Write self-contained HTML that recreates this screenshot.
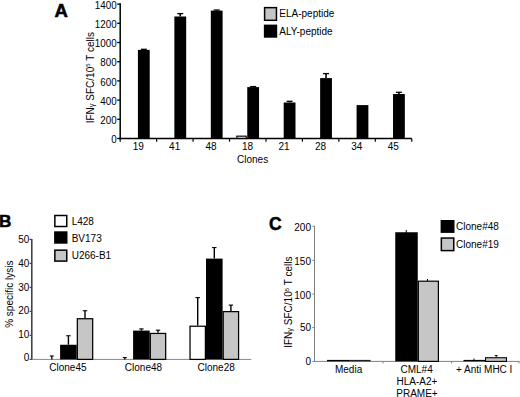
<!DOCTYPE html>
<html><head><meta charset="utf-8"><style>
html,body{margin:0;padding:0;background:#fff;}
svg{display:block;font-family:"Liberation Sans", sans-serif;}
</style></head><body>
<svg width="520" height="397" viewBox="0 0 520 397">
<rect width="520" height="397" fill="#fff"/>
<text x="55.00" y="17.00" font-size="17.5" text-anchor="start" font-weight="bold" fill="#000" stroke="#000" stroke-width="0.5" transform="translate(61.5,0) scale(1.06,1) translate(-61.5,0)">A</text>
<line x1="120.20" y1="3.30" x2="120.20" y2="139.25" stroke="#000" stroke-width="1.5"/>
<line x1="117.20" y1="138.50" x2="120.20" y2="138.50" stroke="#000" stroke-width="1.3"/>
<text transform="translate(116.60,143.20) scale(1,1.1)" font-size="9.8" text-anchor="end" font-weight="normal" fill="#000" >0</text>
<line x1="117.20" y1="119.30" x2="120.20" y2="119.30" stroke="#000" stroke-width="1.3"/>
<text transform="translate(116.60,124.00) scale(1,1.1)" font-size="9.8" text-anchor="end" font-weight="normal" fill="#000" >200</text>
<line x1="117.20" y1="100.10" x2="120.20" y2="100.10" stroke="#000" stroke-width="1.3"/>
<text transform="translate(116.60,104.80) scale(1,1.1)" font-size="9.8" text-anchor="end" font-weight="normal" fill="#000" >400</text>
<line x1="117.20" y1="80.90" x2="120.20" y2="80.90" stroke="#000" stroke-width="1.3"/>
<text transform="translate(116.60,85.60) scale(1,1.1)" font-size="9.8" text-anchor="end" font-weight="normal" fill="#000" >600</text>
<line x1="117.20" y1="61.70" x2="120.20" y2="61.70" stroke="#000" stroke-width="1.3"/>
<text transform="translate(116.60,66.40) scale(1,1.1)" font-size="9.8" text-anchor="end" font-weight="normal" fill="#000" >800</text>
<line x1="117.20" y1="42.50" x2="120.20" y2="42.50" stroke="#000" stroke-width="1.3"/>
<text transform="translate(116.60,47.20) scale(1,1.1)" font-size="9.8" text-anchor="end" font-weight="normal" fill="#000" >1000</text>
<line x1="117.20" y1="23.30" x2="120.20" y2="23.30" stroke="#000" stroke-width="1.3"/>
<text transform="translate(116.60,28.00) scale(1,1.1)" font-size="9.8" text-anchor="end" font-weight="normal" fill="#000" >1200</text>
<line x1="117.20" y1="4.10" x2="120.20" y2="4.10" stroke="#000" stroke-width="1.3"/>
<text transform="translate(116.60,8.80) scale(1,1.1)" font-size="9.8" text-anchor="end" font-weight="normal" fill="#000" >1400</text>
<line x1="119.45" y1="138.50" x2="411.75" y2="138.50" stroke="#000" stroke-width="1.6"/>
<line x1="120.20" y1="138.50" x2="120.20" y2="141.70" stroke="#000" stroke-width="1.2"/>
<line x1="156.64" y1="138.50" x2="156.64" y2="141.70" stroke="#000" stroke-width="1.2"/>
<line x1="193.09" y1="138.50" x2="193.09" y2="141.70" stroke="#000" stroke-width="1.2"/>
<line x1="229.53" y1="138.50" x2="229.53" y2="141.70" stroke="#000" stroke-width="1.2"/>
<line x1="265.98" y1="138.50" x2="265.98" y2="141.70" stroke="#000" stroke-width="1.2"/>
<line x1="302.42" y1="138.50" x2="302.42" y2="141.70" stroke="#000" stroke-width="1.2"/>
<line x1="338.86" y1="138.50" x2="338.86" y2="141.70" stroke="#000" stroke-width="1.2"/>
<line x1="375.31" y1="138.50" x2="375.31" y2="141.70" stroke="#000" stroke-width="1.2"/>
<line x1="411.75" y1="138.50" x2="411.75" y2="141.70" stroke="#000" stroke-width="1.2"/>
<rect x="137.92" y="49.90" width="11.80" height="88.60" fill="#000"/>
<line x1="143.82" y1="49.90" x2="143.82" y2="49.30" stroke="#000" stroke-width="1.6"/>
<line x1="140.82" y1="49.30" x2="146.82" y2="49.30" stroke="#000" stroke-width="1.3"/>
<text x="138.22" y="150.00" font-size="10" text-anchor="middle" font-weight="normal" fill="#000" >19</text>
<rect x="174.37" y="16.50" width="11.80" height="122.00" fill="#000"/>
<line x1="180.27" y1="16.50" x2="180.27" y2="13.60" stroke="#000" stroke-width="1.6"/>
<line x1="177.27" y1="13.60" x2="183.27" y2="13.60" stroke="#000" stroke-width="1.3"/>
<text x="174.67" y="150.00" font-size="10" text-anchor="middle" font-weight="normal" fill="#000" >41</text>
<rect x="210.81" y="10.60" width="11.80" height="127.90" fill="#000"/>
<line x1="216.71" y1="10.60" x2="216.71" y2="10.00" stroke="#000" stroke-width="1.6"/>
<line x1="213.71" y1="10.00" x2="219.71" y2="10.00" stroke="#000" stroke-width="1.3"/>
<text x="211.11" y="150.00" font-size="10" text-anchor="middle" font-weight="normal" fill="#000" >48</text>
<rect x="247.25" y="87.10" width="11.80" height="51.40" fill="#000"/>
<line x1="253.15" y1="87.10" x2="253.15" y2="86.60" stroke="#000" stroke-width="1.6"/>
<line x1="250.15" y1="86.60" x2="256.15" y2="86.60" stroke="#000" stroke-width="1.3"/>
<rect x="236.80" y="136.15" width="9.40" height="2.35" fill="#c6c6c6" stroke="#000" stroke-width="1.1"/>
<text x="247.55" y="150.00" font-size="10" text-anchor="middle" font-weight="normal" fill="#000" >18</text>
<rect x="283.70" y="102.50" width="11.80" height="36.00" fill="#000"/>
<line x1="289.60" y1="102.50" x2="289.60" y2="101.30" stroke="#000" stroke-width="1.6"/>
<line x1="286.60" y1="101.30" x2="292.60" y2="101.30" stroke="#000" stroke-width="1.3"/>
<text x="284.00" y="150.00" font-size="10" text-anchor="middle" font-weight="normal" fill="#000" >21</text>
<rect x="320.14" y="78.10" width="11.80" height="60.40" fill="#000"/>
<line x1="326.04" y1="78.10" x2="326.04" y2="73.60" stroke="#000" stroke-width="1.6"/>
<line x1="323.04" y1="73.60" x2="329.04" y2="73.60" stroke="#000" stroke-width="1.3"/>
<text x="320.44" y="150.00" font-size="10" text-anchor="middle" font-weight="normal" fill="#000" >28</text>
<rect x="356.58" y="105.10" width="11.80" height="33.40" fill="#000"/>
<text x="356.88" y="150.00" font-size="10" text-anchor="middle" font-weight="normal" fill="#000" >34</text>
<rect x="393.03" y="94.00" width="11.80" height="44.50" fill="#000"/>
<line x1="398.93" y1="94.00" x2="398.93" y2="92.30" stroke="#000" stroke-width="1.6"/>
<line x1="395.93" y1="92.30" x2="401.93" y2="92.30" stroke="#000" stroke-width="1.3"/>
<text x="393.33" y="150.00" font-size="10" text-anchor="middle" font-weight="normal" fill="#000" >45</text>
<text x="237.00" y="162.70" font-size="10" text-anchor="start" font-weight="normal" fill="#000" >Clones</text>
<rect x="264.60" y="7.65" width="11.85" height="12.65" fill="#c6c6c6" stroke="#000" stroke-width="1.5"/>
<rect x="263.85" y="24.60" width="13.35" height="13.10" fill="#000"/>
<text x="279.30" y="16.90" font-size="10" text-anchor="start" font-weight="normal" fill="#000" >ELA-peptide</text>
<text x="279.30" y="34.60" font-size="10" text-anchor="start" font-weight="normal" fill="#000" >ALY-peptide</text>
<text transform="translate(93.6,77.7) rotate(-90)" font-size="10" text-anchor="middle">IFN<tspan font-size="7.5">γ</tspan> SFC/10<tspan font-size="6" dy="-3.2">5</tspan><tspan dy="3.2"> T cells</tspan></text>
<text x="-0.90" y="227.30" font-size="17.2" text-anchor="start" font-weight="bold" fill="#000" stroke="#000" stroke-width="0.5">B</text>
<line x1="31.80" y1="239.00" x2="31.80" y2="359.90" stroke="#444" stroke-width="1.6"/>
<line x1="29.60" y1="359.40" x2="31.80" y2="359.40" stroke="#444" stroke-width="1.2"/>
<text x="29.30" y="361.30" font-size="10" text-anchor="end" font-weight="normal" fill="#000" >0</text>
<line x1="29.60" y1="335.40" x2="31.80" y2="335.40" stroke="#444" stroke-width="1.2"/>
<text x="29.30" y="337.70" font-size="10" text-anchor="end" font-weight="normal" fill="#000" >10</text>
<line x1="29.60" y1="311.40" x2="31.80" y2="311.40" stroke="#444" stroke-width="1.2"/>
<text x="29.30" y="314.20" font-size="10" text-anchor="end" font-weight="normal" fill="#000" >20</text>
<line x1="29.60" y1="287.40" x2="31.80" y2="287.40" stroke="#444" stroke-width="1.2"/>
<text x="29.30" y="290.60" font-size="10" text-anchor="end" font-weight="normal" fill="#000" >30</text>
<line x1="29.60" y1="263.40" x2="31.80" y2="263.40" stroke="#444" stroke-width="1.2"/>
<text x="29.30" y="267.00" font-size="10" text-anchor="end" font-weight="normal" fill="#000" >40</text>
<line x1="29.60" y1="239.40" x2="31.80" y2="239.40" stroke="#444" stroke-width="1.2"/>
<text x="29.30" y="243.40" font-size="10" text-anchor="end" font-weight="normal" fill="#000" >50</text>
<line x1="31.80" y1="359.40" x2="251.30" y2="359.40" stroke="#888" stroke-width="1"/>
<line x1="51.80" y1="359.40" x2="51.80" y2="356.00" stroke="#000" stroke-width="1.3"/>
<line x1="49.80" y1="356.00" x2="53.80" y2="356.00" stroke="#000" stroke-width="1.1"/>
<rect x="60.10" y="344.75" width="16.60" height="14.65" fill="#000"/>
<line x1="68.40" y1="344.75" x2="68.40" y2="335.75" stroke="#000" stroke-width="1.4"/>
<line x1="66.20" y1="335.75" x2="70.60" y2="335.75" stroke="#000" stroke-width="1.1"/>
<rect x="77.33" y="318.73" width="15.35" height="40.67" fill="#c6c6c6" stroke="#000" stroke-width="1.25"/>
<line x1="85.00" y1="318.10" x2="85.00" y2="310.75" stroke="#000" stroke-width="1.4"/>
<line x1="82.80" y1="310.75" x2="87.20" y2="310.75" stroke="#000" stroke-width="1.1"/>
<text x="67.90" y="370.70" font-size="10" text-anchor="middle" font-weight="normal" fill="#000" >Clone45</text>
<line x1="124.80" y1="359.40" x2="124.80" y2="357.60" stroke="#000" stroke-width="1.3"/>
<line x1="122.80" y1="357.60" x2="126.80" y2="357.60" stroke="#000" stroke-width="1.1"/>
<rect x="133.10" y="330.60" width="16.60" height="28.80" fill="#000"/>
<line x1="141.40" y1="330.60" x2="141.40" y2="328.90" stroke="#000" stroke-width="1.4"/>
<line x1="139.20" y1="328.90" x2="143.60" y2="328.90" stroke="#000" stroke-width="1.1"/>
<rect x="150.32" y="333.43" width="15.35" height="25.97" fill="#c6c6c6" stroke="#000" stroke-width="1.25"/>
<line x1="158.00" y1="332.80" x2="158.00" y2="330.20" stroke="#000" stroke-width="1.4"/>
<line x1="155.80" y1="330.20" x2="160.20" y2="330.20" stroke="#000" stroke-width="1.1"/>
<text x="143.50" y="370.70" font-size="10" text-anchor="middle" font-weight="normal" fill="#000" >Clone48</text>
<rect x="190.03" y="326.23" width="15.35" height="33.17" fill="#fff" stroke="#000" stroke-width="1.25"/>
<line x1="197.70" y1="325.60" x2="197.70" y2="297.60" stroke="#000" stroke-width="1.4"/>
<line x1="195.50" y1="297.60" x2="199.90" y2="297.60" stroke="#000" stroke-width="1.1"/>
<rect x="206.00" y="258.60" width="16.60" height="100.80" fill="#000"/>
<line x1="214.30" y1="258.60" x2="214.30" y2="247.60" stroke="#000" stroke-width="1.4"/>
<line x1="212.10" y1="247.60" x2="216.50" y2="247.60" stroke="#000" stroke-width="1.1"/>
<rect x="223.23" y="311.62" width="15.35" height="47.77" fill="#c6c6c6" stroke="#000" stroke-width="1.25"/>
<line x1="230.90" y1="311.00" x2="230.90" y2="305.10" stroke="#000" stroke-width="1.4"/>
<line x1="228.70" y1="305.10" x2="233.10" y2="305.10" stroke="#000" stroke-width="1.1"/>
<text x="216.15" y="370.70" font-size="10" text-anchor="middle" font-weight="normal" fill="#000" >Clone28</text>
<rect x="54.85" y="215.50" width="11.90" height="11.00" fill="#fff" stroke="#000" stroke-width="1.5"/>
<rect x="54.10" y="231.30" width="13.40" height="12.40" fill="#000"/>
<rect x="54.85" y="250.15" width="11.90" height="10.95" fill="#c6c6c6" stroke="#000" stroke-width="1.5"/>
<text x="71.70" y="224.90" font-size="10" text-anchor="start" font-weight="normal" fill="#000" >L428</text>
<text x="71.70" y="241.80" font-size="10" text-anchor="start" font-weight="normal" fill="#000" >BV173</text>
<text x="71.70" y="259.00" font-size="10" text-anchor="start" font-weight="normal" fill="#000" >U266-B1</text>
<text transform="translate(13,294.2) rotate(-90)" font-size="10" text-anchor="middle">% specific lysis</text>
<text x="268.90" y="230.10" font-size="17.5" text-anchor="start" font-weight="bold" fill="#000" stroke="#000" stroke-width="0.5">C</text>
<line x1="314.50" y1="226.00" x2="314.50" y2="361.40" stroke="#808080" stroke-width="1"/>
<line x1="312.30" y1="361.40" x2="314.50" y2="361.40" stroke="#808080" stroke-width="1"/>
<text x="311.00" y="364.80" font-size="10" text-anchor="end" font-weight="normal" fill="#000" >0</text>
<line x1="312.30" y1="327.60" x2="314.50" y2="327.60" stroke="#808080" stroke-width="1"/>
<text x="311.00" y="331.30" font-size="10" text-anchor="end" font-weight="normal" fill="#000" >50</text>
<line x1="312.30" y1="294.10" x2="314.50" y2="294.10" stroke="#808080" stroke-width="1"/>
<text x="311.00" y="298.85" font-size="10" text-anchor="end" font-weight="normal" fill="#000" >100</text>
<line x1="312.30" y1="260.30" x2="314.50" y2="260.30" stroke="#808080" stroke-width="1"/>
<text x="311.00" y="264.80" font-size="10" text-anchor="end" font-weight="normal" fill="#000" >150</text>
<line x1="312.30" y1="226.20" x2="314.50" y2="226.20" stroke="#808080" stroke-width="1"/>
<text x="311.00" y="230.95" font-size="10" text-anchor="end" font-weight="normal" fill="#000" >200</text>
<line x1="314.50" y1="361.40" x2="519.50" y2="361.40" stroke="#808080" stroke-width="1"/>
<line x1="383.00" y1="361.40" x2="383.00" y2="363.40" stroke="#808080" stroke-width="1"/>
<line x1="451.50" y1="361.40" x2="451.50" y2="363.40" stroke="#808080" stroke-width="1"/>
<line x1="519.00" y1="361.40" x2="519.00" y2="363.40" stroke="#808080" stroke-width="1"/>
<rect x="327.00" y="359.90" width="22.00" height="1.40" fill="#000"/>
<rect x="349.00" y="359.90" width="21.60" height="1.40" fill="#222"/>
<rect x="395.25" y="232.25" width="22.50" height="129.15" fill="#000"/>
<line x1="406.25" y1="230.00" x2="406.25" y2="233.00" stroke="#000" stroke-width="1"/>
<rect x="418.35" y="281.20" width="20.05" height="80.20" fill="#c6c6c6" stroke="#000" stroke-width="1.2"/>
<line x1="427.50" y1="279.00" x2="427.50" y2="281.00" stroke="#000" stroke-width="1"/>
<rect x="463.50" y="359.90" width="22.00" height="1.40" fill="#000"/>
<line x1="474.00" y1="358.60" x2="474.00" y2="360.00" stroke="#000" stroke-width="1"/>
<rect x="485.55" y="357.75" width="20.90" height="3.65" fill="#c6c6c6" stroke="#000" stroke-width="1.1"/>
<line x1="496.20" y1="355.10" x2="496.20" y2="357.50" stroke="#000" stroke-width="1"/>
<line x1="494.70" y1="355.50" x2="497.70" y2="355.50" stroke="#000" stroke-width="0.8"/>
<text x="348.60" y="372.80" font-size="10" text-anchor="middle" font-weight="normal" fill="#000" >Media</text>
<text x="416.60" y="373.00" font-size="10" text-anchor="middle" font-weight="normal" fill="#000" >CML#4</text>
<text x="417.00" y="385.00" font-size="10" text-anchor="middle" font-weight="normal" fill="#000" >HLA-A2+</text>
<text x="417.00" y="397.20" font-size="10" text-anchor="middle" font-weight="normal" fill="#000" >PRAME+</text>
<text x="484.20" y="373.00" font-size="10" text-anchor="middle" font-weight="normal" fill="#000" >+ Anti MHC I</text>
<rect x="440.60" y="220.00" width="13.90" height="12.90" fill="#000"/>
<rect x="441.35" y="238.05" width="12.40" height="12.55" fill="#c6c6c6" stroke="#000" stroke-width="1.5"/>
<text x="456.00" y="229.60" font-size="10" text-anchor="start" font-weight="normal" fill="#000" >Clone#48</text>
<text x="456.00" y="248.00" font-size="10" text-anchor="start" font-weight="normal" fill="#000" >Clone#19</text>
<text transform="translate(291.8,302.2) rotate(-90)" font-size="10" text-anchor="middle">IFN<tspan font-size="7.5">γ</tspan> SFC/10<tspan font-size="6" dy="-3.2">5</tspan><tspan dy="3.2"> T cells</tspan></text>
</svg>
</body></html>
